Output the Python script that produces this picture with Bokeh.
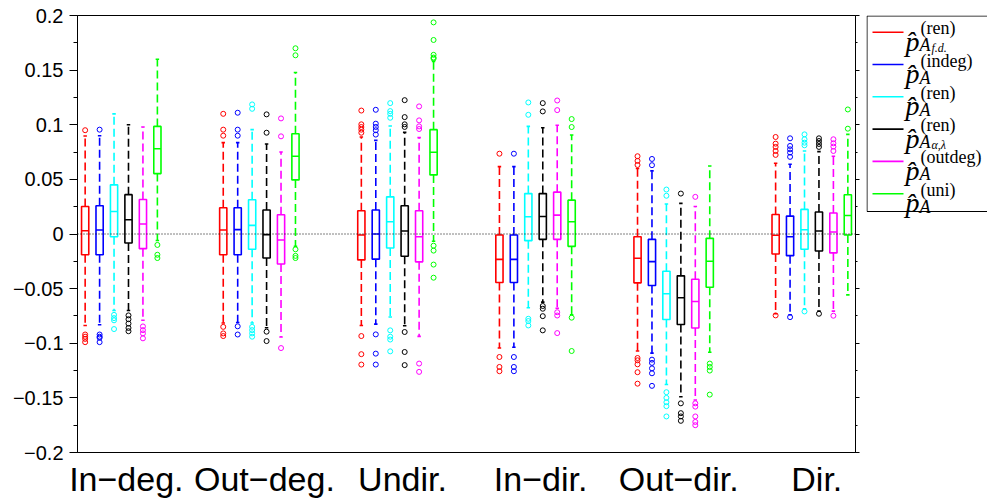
import numpy as np
from bokeh.plotting import figure
from bokeh.models import Range1d, LinearAxis, FixedTicker, CustomJSTickFormatter, Span
from bokeh.layouts import row
from bokeh.embed import file_html
from bokeh.resources import INLINE
from bokeh.core.properties import value

# ---------------- data ----------------
groups = ["In\u2212deg.", "Out\u2212deg.", "Undir.", "In\u2212dir.", "Out\u2212dir.", "Dir."]
colors = ["#ff0000", "#0000ff", "#00ffff", "#000000", "#ff00ff", "#00ff00"]
sup_labels = ["(ren)", "(indeg)", "(ren)", "(ren)", "(outdeg)", "(uni)"]
subsub_labels = ["f.d.", "", "", "\u03b1,\u03bb", "", ""]

# rows: groups, columns: methods (red, blue, cyan, black, magenta, green)
q1 = [
    [-0.019, -0.019, -0.0025, -0.0082, -0.0134, 0.0553],
    [-0.019, -0.019, -0.014, -0.0219, -0.0274, 0.0495],
    [-0.0237, -0.023, -0.0128, -0.0204, -0.0255, 0.0541],
    [-0.0444, -0.0444, -0.0061, -0.0049, -0.0049, -0.0113],
    [-0.0447, -0.0472, -0.0782, -0.0828, -0.0861, -0.0487],
    [-0.0183, -0.0198, -0.014, -0.0155, -0.0173, -0.0009],
]
med = [
    [0.003, 0.0036, 0.0206, 0.013, 0.0091, 0.078],
    [0.0036, 0.004, 0.0079, -0.0006, -0.0055, 0.0711],
    [-0.0009, 0.0, 0.0112, 0.0027, -0.0025, 0.0748],
    [-0.0232, -0.0232, 0.0158, 0.016, 0.0173, 0.0112],
    [-0.0222, -0.0253, -0.0547, -0.0584, -0.0618, -0.025],
    [-0.0012, -0.0025, 0.0039, 0.0027, 0.0018, 0.017],
]
q3 = [
    [0.0252, 0.0258, 0.045, 0.036, 0.0316, 0.0985],
    [0.024, 0.024, 0.0313, 0.0219, 0.0176, 0.0918],
    [0.0213, 0.0219, 0.034, 0.0258, 0.0213, 0.0955],
    [-0.0009, -0.0009, 0.037, 0.037, 0.0383, 0.031],
    [-0.0025, -0.0049, -0.0341, -0.0383, -0.0414, -0.004],
    [0.0179, 0.0164, 0.0225, 0.0201, 0.0192, 0.0359],
]
wlo = [
    [-0.0837, -0.083, -0.070, -0.070, -0.079, -0.006],
    [-0.0815, -0.081, -0.0815, -0.0858, -0.0943, -0.0113],
    [-0.0837, -0.0825, -0.076, -0.084, -0.0937, -0.0067],
    [-0.1044, -0.1036, -0.0675, -0.0624, -0.0679, -0.0739],
    [-0.1071, -0.109, -0.1378, -0.149, -0.152, -0.1083],
    [-0.073, -0.0739, -0.0684, -0.0706, -0.0706, -0.0557],
]
whi = [
    [0.0897, 0.090, 0.110, 0.100, 0.098, 0.160],
    [0.0836, 0.0836, 0.0955, 0.0824, 0.075, 0.1478],
    [0.0888, 0.0857, 0.0988, 0.093, 0.0882, 0.158],
    [0.0617, 0.0617, 0.0985, 0.0973, 0.0995, 0.0906],
    [0.0599, 0.0578, 0.0274, 0.028, 0.0252, 0.0623],
    [0.0648, 0.0639, 0.076, 0.0754, 0.0712, 0.0912],
]
outliers = [
    [[0.095, -0.092, -0.094, -0.096, -0.099],
     [0.0955, -0.092, -0.094, -0.095, -0.099],
     [-0.074, -0.077, -0.079, -0.087],
     [-0.0745, -0.078, -0.082, -0.086, -0.089],
     [-0.0846, -0.088, -0.091, -0.0955],
     [-0.010, -0.019, -0.022]],
    [[0.110, 0.0955, 0.090, -0.085, -0.091, -0.0934],
     [0.111, 0.0955, 0.090, -0.0845, -0.092],
     [0.1186, 0.1146, -0.085, -0.088, -0.091, -0.094],
     [0.1095, 0.0927, -0.0894, -0.098],
     [0.1058, 0.0894, -0.1044],
     [0.170, 0.1636, -0.014, -0.020, -0.022]],
    [[0.113, 0.1004, 0.0979, 0.0955, 0.0927, -0.0934, -0.110, -0.1195],
     [0.1137, 0.101, 0.098, 0.095, 0.091, -0.0919, -0.1095, -0.1195],
     [0.1198, 0.1125, 0.110, 0.1064, -0.0882, -0.094, -0.0966, -0.1074],
     [0.1225, 0.107, 0.1004, 0.098, -0.0897, -0.108, -0.120],
     [0.1168, 0.104, 0.0985, 0.0961, -0.1186, -0.1262],
     [0.1937, 0.1776, 0.164, 0.1615, 0.1605, -0.0107, -0.0152, -0.028, -0.040]],
    [[0.0735, -0.1126, -0.1217, -0.1256],
     [0.0735, -0.1126, -0.1217, -0.1256],
     [0.1204, 0.1091, -0.0776, -0.0797, -0.0837],
     [0.1198, 0.1122, -0.0659, -0.0684, -0.0752, -0.0882],
     [0.1222, 0.1134, -0.0716, -0.0746, -0.0907],
     [0.1052, 0.0979, -0.0766, -0.1071]],
    [[0.0712, 0.0669, 0.0632, -0.1135, -0.1156, -0.1193, -0.1265, -0.137],
     [0.0687, 0.063, -0.115, -0.118, -0.123, -0.1275, -0.139],
     [0.0407, 0.035, -0.1448, -0.150, -0.154, -0.1576, -0.167],
     [0.037, -0.155, -0.164, -0.167, -0.171],
     [0.034, -0.155, -0.158, -0.167, -0.172, -0.175],
     [-0.1186, -0.1217, -0.125, -0.147]],
    [[0.0888, 0.0827, 0.0797, 0.076, 0.0724, -0.0745],
     [0.0876, 0.0806, 0.0775, 0.0745, 0.0706, -0.0761],
     [0.0912, 0.0867, 0.0836, 0.0812, -0.0709],
     [0.0876, 0.0851, 0.0824, 0.0797, -0.073],
     [0.0867, 0.083, 0.080, 0.076, -0.0748],
     [0.114, 0.0964]],
]

y_ticks = [-0.2, -0.15, -0.1, -0.05, 0, 0.05, 0.1, 0.15, 0.2]
y_minor = [-0.175, -0.125, -0.075, -0.025, 0.025, 0.075, 0.125, 0.175]

# ---------------- layout constants ----------------
GAP = 9.56     # distance between group starts (in box spacings)
BW = 0.5       # box width
CAP = 0.24     # whisker cap width
LW = 1.6
FONT = "Liberation Sans"
SERIF = "Liberation Serif"
TOP, BOTTOM = 15, 48

ng, nm = len(groups), len(colors)

# ---------------- main figure ----------------
p = figure(width=866, height=500, output_backend="svg", toolbar_location=None,
           x_range=Range1d(-0.53, (ng - 1) * GAP + (nm - 1) + 0.53),
           y_range=Range1d(-0.2, 0.2),
           x_axis_type=None, y_axis_type=None)
p.min_border_left = 77
p.min_border_right = 11
p.min_border_top = TOP
p.min_border_bottom = BOTTOM
p.outline_line_color = "black"
p.outline_line_width = 1
p.background_fill_color = "white"
p.border_fill_color = "white"

p.add_layout(Span(location=0, dimension="width", line_color="black",
                  line_dash="1 2", line_width=1))

for g in range(ng):
    for k in range(nm):
        x = g * GAP + k
        c = colors[k]
        # whiskers (dashed)
        p.segment(x0=[x, x], y0=[q3[g][k], q1[g][k]], x1=[x, x], y1=[whi[g][k], wlo[g][k]],
                  line_color=c, line_width=LW, line_dash="8 4")
        # caps
        p.segment(x0=[x - CAP / 2, x - CAP / 2], y0=[whi[g][k], wlo[g][k]],
                  x1=[x + CAP / 2, x + CAP / 2], y1=[whi[g][k], wlo[g][k]],
                  line_color=c, line_width=LW)
        # box
        p.quad(left=[x - BW / 2], right=[x + BW / 2], bottom=[q1[g][k]], top=[q3[g][k]],
               fill_color=None, line_color=c, line_width=LW)
        # median
        p.segment(x0=[x - BW / 2], y0=[med[g][k]], x1=[x + BW / 2], y1=[med[g][k]],
                  line_color=c, line_width=LW)
        # outliers
        ov = outliers[g][k]
        p.scatter(x=[x] * len(ov), y=ov, marker="circle", size=5, fill_color=None,
                  line_color=c, line_width=1)

fmt_y = CustomJSTickFormatter(code="return tick < 0 ? '\u2212' + String(-tick) : String(tick);")
yl = LinearAxis(ticker=FixedTicker(ticks=y_ticks, minor_ticks=y_minor), formatter=fmt_y)
yl.axis_line_color = "black"
yl.major_tick_out = 8
yl.major_tick_in = 0
yl.minor_tick_out = 4
yl.minor_tick_in = 0
yl.major_label_standoff = 6
yl.major_label_text_font = FONT
yl.major_label_text_font_size = "20px"
yl.major_label_text_color = "black"
p.add_layout(yl, "left")

yr = LinearAxis(ticker=FixedTicker(ticks=y_ticks, minor_ticks=y_minor),
                formatter=CustomJSTickFormatter(code="return '';"))
yr.major_tick_out = 4
yr.major_tick_in = 0
yr.minor_tick_out = 2
yr.minor_tick_in = 0
yr.major_label_standoff = 0
p.add_layout(yr, "right")

centers = [g * GAP + (nm - 1) / 2 + 0.35 for g in range(ng)]
fmt_x = CustomJSTickFormatter(args=dict(labels=groups, centers=centers), code="""
let best = 0;
for (let i = 0; i < centers.length; i++) {
  if (Math.abs(centers[i] - tick) < Math.abs(centers[best] - tick)) best = i;
}
return labels[best];
""")
xb = LinearAxis(ticker=FixedTicker(ticks=centers), formatter=fmt_x)
xb.axis_line_color = "black"
xb.major_tick_line_color = None
xb.minor_tick_line_color = None
xb.major_tick_out = 0
xb.major_tick_in = 0
xb.major_label_standoff = 7
xb.major_label_text_font = FONT
xb.major_label_text_font_size = "34px"
xb.major_label_text_color = "black"
p.add_layout(xb, "below")

# ---------------- legend figure (y in canvas pixels, frame aligned with main) ----------------
leg = figure(width=121, height=500, output_backend="svg", toolbar_location=None,
             x_range=Range1d(0, 121), y_range=Range1d(500 - BOTTOM, TOP),
             x_axis_type=None, y_axis_type=None)
leg.min_border_left = 0
leg.min_border_right = 0
leg.min_border_top = TOP
leg.min_border_bottom = BOTTOM
leg.outline_line_color = None
leg.background_fill_color = "white"
leg.border_fill_color = "white"

leg.quad(left=[0.5], right=[130], top=[15.5], bottom=[211], fill_color="white",
         line_color="black", line_width=1)

row_y = [31.7 + 32.3 * i for i in range(nm)]
leg.segment(x0=[6] * nm, y0=row_y, x1=[37] * nm, y1=row_y, line_color=colors, line_width=LW)
leg.text(x=[39] * nm, y=[yy + 9 for yy in row_y], text=["p\u0302"] * nm,
         text_font=value(SERIF), text_font_style="italic", text_font_size="28px",
         text_baseline="alphabetic", text_align="left", text_color="black")
leg.text(x=[54] * nm, y=[yy - 4 for yy in row_y], text=sup_labels,
         text_font=value(SERIF), text_font_size="18px",
         text_baseline="alphabetic", text_align="left", text_color="black")
leg.text(x=[53] * nm, y=[yy + 13 for yy in row_y], text=["A"] * nm,
         text_font=value(SERIF), text_font_style="italic", text_font_size="18px",
         text_baseline="alphabetic", text_align="left", text_color="black")
leg.text(x=[65] * nm, y=[yy + 16 for yy in row_y], text=subsub_labels,
         text_font=value(SERIF), text_font_style="italic", text_font_size="12px",
         text_baseline="alphabetic", text_align="left", text_color="black")

layout = row(p, leg)
open("out.html", "w").write(file_html(layout, INLINE))
